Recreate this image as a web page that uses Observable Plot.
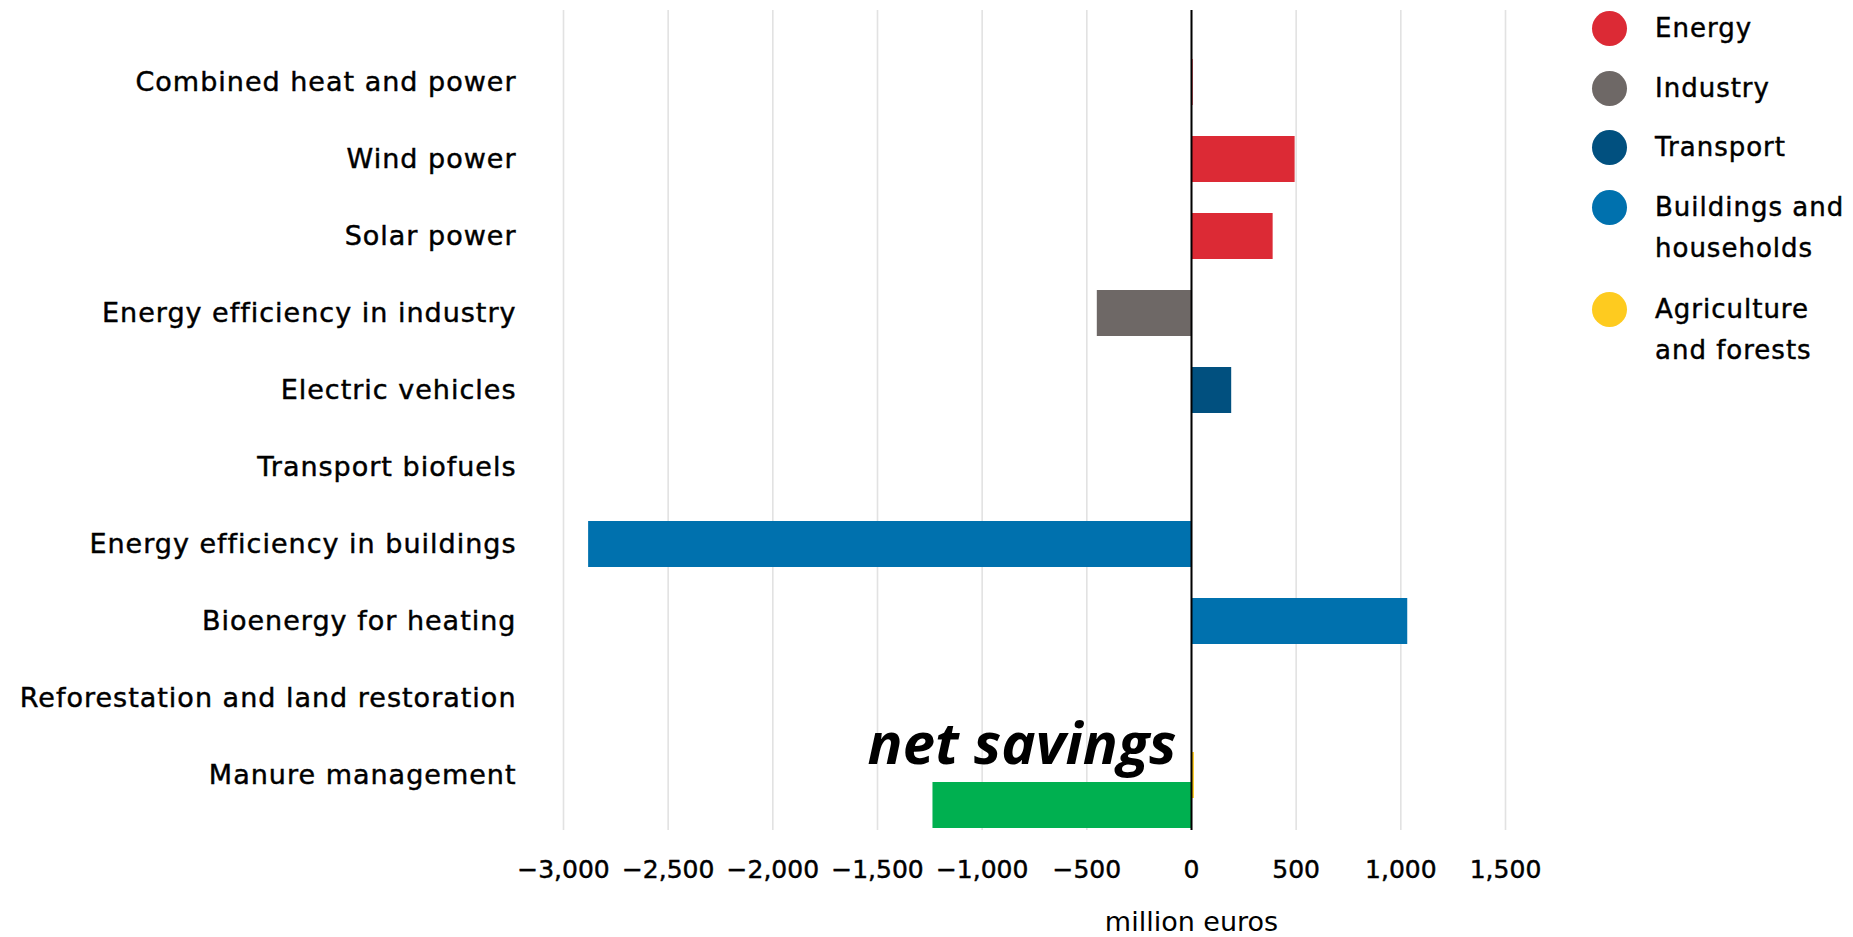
<!DOCTYPE html>
<html>
<head>
<meta charset="utf-8">
<script src="https://cdn.jsdelivr.net/npm/d3@7"></script>
<script src="https://cdn.jsdelivr.net/npm/@observablehq/plot@0.6"></script>
<style>
  html, body { margin: 0; padding: 0; background: #fff; }
  #wrap { position: relative; width: 1853px; height: 937px; overflow: hidden; }
  .legend-item { position: absolute; left: 1592px; font-family: "DejaVu Sans", sans-serif; font-size: 26px; line-height: 41px; letter-spacing: 1px; color: #000; -webkit-text-stroke: 0.45px #000; }
  .legend-item .dot { position: absolute; left: 0; top: 3px; width: 35px; height: 35px; border-radius: 50%; }
  .legend-item .lbl { position: absolute; left: 63px; top: 0; white-space: nowrap; }
</style>
</head>
<body>
<div id="wrap"></div>
<script>
const categories = [
  "Combined heat and power",
  "Wind power",
  "Solar power",
  "Energy efficiency in industry",
  "Electric vehicles",
  "Transport biofuels",
  "Energy efficiency in buildings",
  "Bioenergy for heating",
  "Reforestation and land restoration",
  "Manure management"
];
const values = [8, 495, 390, -450, 192, 0, -2880, 1033, 0, 14];
const categorySector = ["Energy", "Energy", "Energy", "Industry", "Transport", "Transport",
  "Buildings and households", "Buildings and households", "Agriculture and forests", "Agriculture and forests"];
const sectors = ["Energy", "Industry", "Transport", "Buildings and households", "Agriculture and forests"];
const legendLines = [["Energy"], ["Industry"], ["Transport"], ["Buildings and", "households"], ["Agriculture", "and forests"]];
const sectorColors = ["#DC2A35", "#6E6866", "#01507F", "#0071AE", "#FECB1F"];
const netSavings = -1235;
const netSavingsLabel = "net savings";
const xTicks = [-3000, -2500, -2000, -1500, -1000, -500, 0, 500, 1000, 1500];
const xLabel = "million euros";

const data = categories.map((c, i) => ({category: c, value: values[i], sector: categorySector[i]}));
const fmt = d3.format(",.0f");

const chart = Plot.plot({
  width: 1853,
  height: 937,
  marginLeft: 563,
  marginRight: 348,
  marginTop: 10,
  marginBottom: 107,
  style: {fontFamily: "DejaVu Sans, sans-serif", background: "#fff", color: "#000"},
  x: {domain: [-3000, 1500]},
  y: {domain: categories, range: [28, 829], padding: 0.4},
  color: {domain: sectors, range: sectorColors},
  marks: [
    Plot.ruleX(xTicks, {stroke: "#e2e2e2", strokeWidth: 1.6}),
    Plot.barX(data, {x: "value", y: "category", fill: "sector"}),
    Plot.barX([{category: "Manure management", value: netSavings}], {x: "value", y: "category", fill: "#00B050", dy: 30}),
    Plot.ruleX([0], {stroke: "#000", strokeWidth: 2}),
    Plot.text([{category: "Manure management", value: 0}], {
      x: "value", y: "category", text: () => netSavingsLabel,
      textAnchor: "end", lineAnchor: "bottom", dx: -15, dy: -12,
      fontSize: 58, fontWeight: "bold", fontStyle: "italic", fontFamily: "Open Sans, sans-serif",
      fill: "#000", ariaLabel: "net-savings"
    }),
    Plot.axisY({tickSize: 0, tickPadding: 47, fontSize: 27, label: null}),
    Plot.axisX({ticks: xTicks, tickSize: 0, tickPadding: 30, fontSize: 25, tickFormat: d => fmt(d), label: null}),
    Plot.text([0], {x: d => d, text: () => xLabel, frameAnchor: "bottom", lineAnchor: "bottom", dy: 100, fontSize: 27, fill: "#000", ariaLabel: "x-label"})
  ]
});

const svg = d3.select(chart);
svg.selectAll('g[aria-label="y-axis tick label"]').style("letter-spacing", "1px").attr("stroke", "#000").attr("stroke-width", 0.45);
svg.selectAll('g[aria-label="x-axis tick label"]').style("letter-spacing", "0px").attr("stroke", "#000").attr("stroke-width", 0.45);
svg.selectAll('g[aria-label="x-label"]').style("letter-spacing", "1.5px").attr("stroke", "#000").attr("stroke-width", 0.45);
svg.selectAll('g[aria-label="net-savings"]').style("letter-spacing", "-0.5px");

const wrap = document.getElementById("wrap");
wrap.appendChild(chart);

const legendTops = [8, 68, 127, 187, 289];
sectors.forEach((s, i) => {
  const item = document.createElement("div");
  item.className = "legend-item";
  item.style.top = legendTops[i] + "px";
  const dot = document.createElement("div");
  dot.className = "dot";
  dot.style.background = sectorColors[i];
  item.appendChild(dot);
  legendLines[i].forEach((line, j) => {
    const lbl = document.createElement("div");
    lbl.className = "lbl";
    lbl.style.top = (j * 41) + "px";
    lbl.textContent = line;
    item.appendChild(lbl);
  });
  wrap.appendChild(item);
});
</script>
</body>
</html>
